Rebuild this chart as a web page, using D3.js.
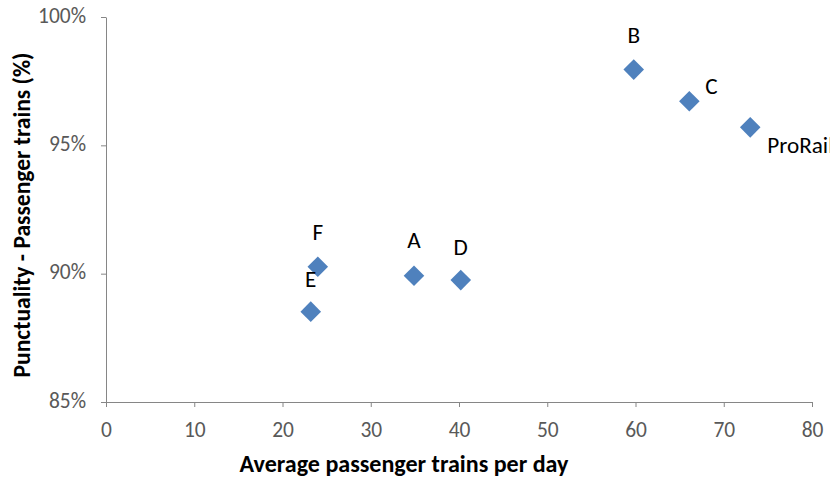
<!DOCTYPE html>
<html><head><meta charset="utf-8">
<script src="https://cdn.jsdelivr.net/npm/d3@7"></script>
<style>body{margin:0;background:#fff}svg{display:block}</style>
</head><body>
<svg id="c" width="830" height="478"></svg>
<script>
const names = ["B","C","ProRail","F","E","A","D"];
const trainsPerDay = [59.8, 66.1, 73.0, 24.0, 23.2, 34.9, 40.2];
const punctuality = [97.95, 96.72, 95.7, 90.27, 88.52, 89.92, 89.75];
const xTicks = [0,10,20,30,40,50,60,70,80];
const yTicks = [85,90,95,100];
// label offsets (dx, dy) relative to point
const labelPos = [[0,-32,"middle"],[16,-13,"start"],[17,20,"start"],[0,-32,"middle"],[0,-30,"middle"],[0,-33,"middle"],[0,-31,"middle"]];

const svg = d3.select("#c");
const font = "Carlito, Lato, 'Liberation Sans', sans-serif";

// find a font size so that a sample string has the target width
function fitSize(sample, target, weight) {
  const t = svg.append("text").style("font-family",font).style("font-size","20px")
    .style("font-weight",weight||"normal").text(sample);
  const w = t.node().getComputedTextLength();
  t.remove();
  return 20 * target / w;
}
const tickFs = fitSize("100%", 48);
const labelFs = fitSize("ProRai", 61);
const xTitle = "Average passenger trains per day";
const yTitle = "Punctuality - Passenger trains (%)";
const xTitleFs = fitSize(xTitle, 329, "bold");
const yTitleFs = fitSize(yTitle, 325, "bold");

const x = d3.scaleLinear().domain([0,80]).range([106,812]);
const y = d3.scaleLinear().domain([85,100]).range([402,17]);

const xAxis = svg.append("g").attr("transform","translate(0,402)")
  .call(d3.axisBottom(x).tickValues(xTicks).tickSize(5).tickSizeOuter(0));
const yAxis = svg.append("g").attr("transform","translate(106,0)")
  .call(d3.axisLeft(y).tickValues(yTicks).tickSize(5).tickSizeOuter(0).tickFormat(d=>d+"%"));
[xAxis,yAxis].forEach(a=>{
  a.select(".domain").attr("stroke","#868686");
  a.selectAll(".tick line").attr("stroke","#868686");
  a.selectAll(".tick text").attr("fill","#595959").style("font-family",font).style("font-size",tickFs+"px");
});
xAxis.selectAll(".tick text").attr("dy",null).attr("y",30).attr("dominant-baseline","middle");
yAxis.selectAll(".tick text").attr("dy",null).attr("x",-20).attr("dominant-baseline","middle");

const sym = d3.symbol().type(d3.symbolSquare).size(212);
svg.append("g").selectAll("path").data(names).join("path")
  .attr("d", sym)
  .attr("transform",(d,i)=>`translate(${x(trainsPerDay[i])},${y(punctuality[i])}) rotate(45)`)
  .attr("fill","#4F81BD");

svg.append("g").selectAll("text").data(names).join("text")
  .attr("x",(d,i)=>x(trainsPerDay[i])+labelPos[i][0])
  .attr("y",(d,i)=>y(punctuality[i])+labelPos[i][1])
  .attr("text-anchor",(d,i)=>labelPos[i][2])
  .attr("dominant-baseline","middle")
  .style("font-family",font).style("font-size",labelFs+"px").attr("fill","#000")
  .text(d=>d);

svg.append("text").attr("x",404).attr("y",466).attr("text-anchor","middle").attr("dominant-baseline","middle")
  .style("font-family",font).style("font-size",xTitleFs+"px").style("font-weight","bold").attr("fill","#000")
  .text(xTitle);
svg.append("text").attr("transform","translate(24,215) rotate(-90)").attr("text-anchor","middle").attr("dominant-baseline","middle")
  .style("font-family",font).style("font-size",yTitleFs+"px").style("font-weight","bold").attr("fill","#000")
  .text(yTitle);
</script>
</body></html>
